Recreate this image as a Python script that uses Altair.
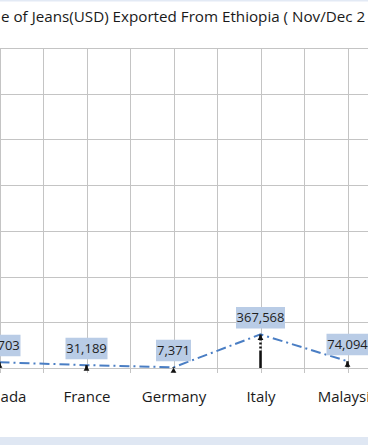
import json
import altair as alt
import pandas as pd

# ---- data ----
countries = ["Canada", "France", "Germany", "Italy", "Malaysia"]
values = [62703, 31189, 7371, 367568, 74094]
title_text = "e of Jeans(USD) Exported From Ethiopia ( Nov/Dec 2"

labels = [f"{v:,}" for v in values]
df = pd.DataFrame({
    "country": countries,
    "value": values,
    "label": labels,
    "idx": list(range(len(countries))),
})

FONT = "Open Sans"
W, H = 368, 320
STEP = 87.0          # pixels per category
X_START = -0.5       # pixel position of the first category

grid_vals = [i / 2 for i in range(2 * len(countries) - 1)]
label_expr = (
    "datum.value % 1 == 0 ? " + json.dumps(countries) + "[datum.value] : ''"
)

x_enc = alt.X(
    "idx:Q",
    scale=alt.Scale(domain=[0, W / STEP], range=[X_START, X_START + W],
                    nice=False, zero=False),
    axis=alt.Axis(
        values=grid_vals, grid=True, gridColor="#c4c4c4", gridWidth=1,
        ticks=True, tickColor="#c4c4c4", tickSize=4.5,
        domain=True, domainColor="#c4c4c4",
        labelExpr=label_expr, labelFont=FONT, labelFontSize=15,
        labelColor="#1a1a1a", labelBaseline="alphabetic", labelPadding=28.5,
        labelOverlap=False, labelFlush=False, labelBound=False, title=None,
    ),
)
y_scale = alt.Scale(domain=[0, 3500000], nice=False)
y_enc = alt.Y(
    "value:Q", scale=y_scale,
    axis=alt.Axis(values=list(range(0, 3500001, 500000)), grid=True,
                  gridColor="#c4c4c4", labels=False, ticks=False,
                  domain=False, title=None),
)

base = alt.Chart(df)

line = base.mark_line(color="#4a7ec4", strokeWidth=2,
                      strokeDash=[10, 4, 2, 4]).encode(x=x_enc, y=y_enc)

drop = base.mark_rule(color="#111111", strokeWidth=2.5,
                      strokeDash=[6, 2, 2, 2, 2, 2, 60]).encode(
    x="idx:Q", y="value:Q", y2=alt.datum(0))

tri = base.mark_point(shape="triangle-up", filled=True, color="#111111",
                      size=34, opacity=1, yOffset=3).encode(x="idx:Q", y="value:Q")

boxes = base.transform_calculate(
    half="length(datum.label) * 3.5 / " + str(STEP)
).transform_calculate(
    x1="datum.idx - datum.half", x2="datum.idx + datum.half"
).mark_rect(color="#b9cce6", yOffset=-27.5, y2Offset=-6).encode(
    x="x1:Q", x2="x2:Q", y="value:Q", y2="value:Q")

txt = base.mark_text(font=FONT, fontSize=13, color="#1f1f1f",
                     baseline="middle", yOffset=-16.5).encode(
    x="idx:Q", y="value:Q", text="label:N")

deco = alt.Chart(pd.DataFrame({"k": [0]}))
bottom_strip = deco.mark_rect(color="#dfe7f3").encode(
    x=alt.value(0), x2=alt.value(W), y=alt.value(389), y2=alt.value(397))
top_strip = deco.mark_rect(color="#e3eaf5").encode(
    x=alt.value(0), x2=alt.value(W), y=alt.value(-48), y2=alt.value(-46.5))
title = deco.mark_text(font=FONT, fontSize=15.2, color="#1a1a1a",
                       align="left", baseline="alphabetic").encode(
    x=alt.value(1), y=alt.value(-26.3), text=alt.value(title_text))

chart = alt.layer(
    line, drop, tri, boxes, txt, bottom_strip, top_strip, title
).properties(
    width=W, height=H,
    autosize=alt.AutoSizeParams(type="none"),
    padding={"left": 0, "right": 0, "top": 48, "bottom": 77},
    background="white",
).configure_view(stroke=None)

chart.save("out.html", embed_options={"renderer": "svg", "actions": False})
